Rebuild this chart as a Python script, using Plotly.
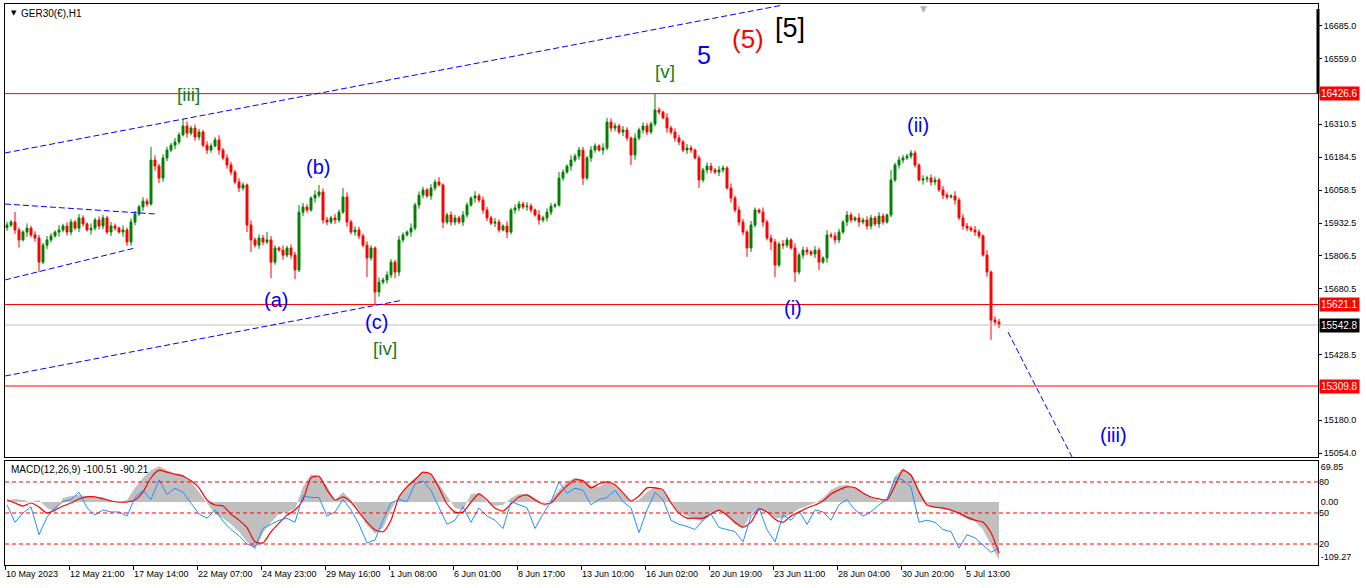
import plotly.graph_objects as go

# GER30 hourly chart (x = bar number)
opens = [
    15915, 15925, 15936, 15906, 15868, 15898, 15913, 15887, 15875, 15783,
    15848, 15868, 15883, 15898, 15906, 15921, 15898, 15936, 15913, 15952,
    15929, 15906, 15913, 15944, 15921, 15952, 15898, 15921, 15913, 15898,
    15906, 15860, 15936, 15967, 15994, 16016, 16005, 16173, 16150, 16104,
    16181, 16211, 16230, 16242, 16269, 16303, 16276, 16295, 16261, 16280,
    16230, 16211, 16227, 16250, 16211, 16181, 16154, 16127, 16089, 16066,
    16078, 15925, 15868, 15848, 15875, 15860, 15868, 15783, 15837, 15829,
    15810, 15837, 15810, 15753, 15974, 15994, 15982, 16028, 16039, 16051,
    15944, 15936, 15952, 15944, 15974, 16032, 15936, 15898, 15906, 15883,
    15848, 15799, 15837, 15669, 15707, 15715, 15734, 15783, 15745, 15868,
    15887, 15898, 15913, 16001, 16039, 16059, 16036, 16066, 16089, 16078,
    15936, 15963, 15936, 15952, 15936, 15963, 16001, 16028, 16036, 16020,
    15982, 15952, 15932, 15936, 15906, 15921, 15898, 15982, 15990, 16005,
    15994, 15997, 15982, 15963, 15944, 15952, 15974, 15997, 16001, 16104,
    16127, 16150, 16173, 16188, 16211, 16104, 16181, 16211, 16227, 16211,
    16219, 16318, 16295, 16303, 16280, 16288, 16257, 16192, 16257, 16288,
    16303, 16280, 16311, 16364, 16356, 16334, 16295, 16280, 16257, 16242,
    16211, 16219, 16211, 16181, 16097, 16135, 16150, 16135, 16127, 16135,
    16143, 16066, 16028, 15982, 15936, 15898, 15837, 15925, 15982, 15974,
    15936, 15875, 15860, 15772, 15852, 15848, 15868, 15837, 15745, 15810,
    15829, 15822, 15814, 15829, 15783, 15799, 15887, 15883, 15868, 15898,
    15936, 15963, 15944, 15952, 15936, 15944, 15921, 15952, 15929, 15959,
    15936, 15963, 16097, 16154, 16173, 16181, 16188, 16200, 16154, 16097,
    16101, 16104, 16089, 16097, 16059, 16039, 16032, 16036, 16020, 15952,
    15921, 15913, 15906, 15898, 15883, 15810, 15745, 15562, 15554,
]
highs = [
    15937, 15944, 15975, 15916, 15904, 15931, 15922, 15901, 15887, 15856,
    15883, 15893, 15904, 15924, 15930, 15935, 15948, 15944, 15967, 15962,
    15935, 15931, 15953, 15958, 15964, 15960, 15936, 15931, 15919, 15924,
    15915, 15950, 15979, 16002, 16031, 16026, 16223, 16191, 16159, 16195,
    16223, 16238, 16257, 16279, 16330, 16321, 16304, 16309, 16292, 16288,
    16245, 16237, 16261, 16268, 16220, 16195, 16166, 16135, 16104, 16088,
    16084, 15943, 15877, 15889, 15887, 15898, 15883, 15847, 15843, 15847,
    15846, 15851, 15822, 16001, 16009, 16004, 16034, 16057, 16078, 16065,
    15956, 15960, 15967, 15984, 16066, 16050, 15945, 15920, 15918, 15891,
    15863, 15847, 15843, 15725, 15724, 15748, 15795, 15791, 15883, 15897,
    15904, 15931, 16010, 16053, 16071, 16067, 16081, 16099, 16108, 16084,
    15972, 15977, 15964, 15960, 15978, 16011, 16034, 16054, 16045, 16034,
    15994, 15960, 15951, 15946, 15927, 15939, 15991, 16004, 16017, 16013,
    16012, 16007, 15988, 15981, 15961, 15988, 16009, 16009, 16127, 16137,
    16156, 16191, 16197, 16223, 16223, 16189, 16226, 16237, 16233, 16237,
    16334, 16332, 16315, 16311, 16303, 16298, 16263, 16275, 16297, 16317,
    16315, 16319, 16426, 16374, 16362, 16352, 16304, 16294, 16269, 16250,
    16234, 16229, 16217, 16190, 16144, 16164, 16162, 16143, 16150, 16153,
    16149, 16084, 16037, 15996, 15948, 15906, 15940, 15992, 15988, 15992,
    15945, 15889, 15872, 15860, 15867, 15878, 15874, 15855, 15819, 15843,
    15841, 15830, 15844, 15839, 15805, 15905, 15896, 15897, 15910, 15944,
    15978, 15973, 15958, 15970, 15953, 15958, 15964, 15960, 15974, 15969,
    15969, 16135, 16163, 16187, 16193, 16196, 16211, 16210, 16160, 16115,
    16113, 16118, 16109, 16105, 16074, 16049, 16042, 16054, 16029, 15966,
    15933, 15921, 15921, 15908, 15889, 15828, 15751, 15576, 15566,
]
lows = [
    15903, 15917, 15891, 15838, 15862, 15880, 15878, 15861, 15745, 15775,
    15833, 15858, 15877, 15880, 15897, 15884, 15886, 15905, 15898, 15919,
    15900, 15888, 15904, 15907, 15909, 15890, 15883, 15903, 15892, 15880,
    15845, 15846, 15924, 15959, 15979, 15995, 15999, 16132, 16085, 16090,
    16169, 16203, 16215, 16232, 16263, 16258, 16267, 16247, 16249, 16222,
    16196, 16201, 16221, 16193, 16172, 16140, 16115, 16081, 16051, 16056,
    15898, 15822, 15839, 15834, 15848, 15852, 15722, 15773, 15823, 15792,
    15801, 15796, 15718, 15745, 15959, 15972, 15976, 16010, 16030, 15930,
    15924, 15928, 15929, 15934, 15968, 15918, 15889, 15884, 15871, 15840,
    15726, 15789, 15619, 15651, 15698, 15701, 15722, 15722, 15730, 15858,
    15881, 15880, 15904, 15987, 16027, 16028, 16021, 16056, 16072, 15913,
    15927, 15922, 15924, 15928, 15921, 15953, 15995, 16010, 16011, 15968,
    15940, 15924, 15917, 15896, 15900, 15875, 15889, 15968, 15978, 15986,
    15979, 15972, 15957, 15926, 15935, 15938, 15962, 15989, 15995, 16094,
    16121, 16132, 16164, 16174, 16078, 16096, 16166, 16201, 16205, 16193,
    16210, 16281, 16283, 16272, 16265, 16247, 16154, 16174, 16248, 16274,
    16268, 16272, 16302, 16346, 16328, 16277, 16271, 16243, 16230, 16203,
    16196, 16201, 16175, 16066, 16088, 16121, 16123, 16119, 16112, 16125,
    16060, 16010, 15973, 15922, 15886, 15803, 15822, 15915, 15968, 15918,
    15866, 15829, 15726, 15764, 15833, 15838, 15831, 15707, 15736, 15796,
    15810, 15806, 15799, 15753, 15777, 15781, 15874, 15854, 15856, 15890,
    15921, 15934, 15938, 15918, 15927, 15907, 15909, 15921, 15914, 15926,
    15930, 15955, 16088, 16140, 16161, 16173, 16178, 16144, 16091, 16079,
    16088, 16075, 16077, 16051, 16024, 16022, 16026, 16002, 15943, 15907,
    15901, 15898, 15883, 15873, 15804, 15727, 15486, 15540, 15531,
]
closes = [
    15925, 15936, 15906, 15868, 15898, 15913, 15887, 15875, 15783, 15848,
    15868, 15883, 15898, 15906, 15921, 15898, 15936, 15913, 15952, 15929,
    15906, 15913, 15944, 15921, 15952, 15898, 15921, 15913, 15898, 15906,
    15860, 15936, 15967, 15994, 16016, 16005, 16173, 16150, 16104, 16181,
    16211, 16230, 16242, 16269, 16303, 16276, 16295, 16261, 16280, 16230,
    16211, 16227, 16250, 16211, 16181, 16154, 16127, 16089, 16066, 16078,
    15925, 15868, 15848, 15875, 15860, 15868, 15783, 15837, 15829, 15810,
    15837, 15810, 15753, 15974, 15994, 15982, 16028, 16039, 16051, 15944,
    15936, 15952, 15944, 15974, 16032, 15936, 15898, 15906, 15883, 15848,
    15799, 15837, 15669, 15707, 15715, 15734, 15783, 15745, 15868, 15887,
    15898, 15913, 16001, 16039, 16059, 16036, 16066, 16089, 16078, 15936,
    15963, 15936, 15952, 15936, 15963, 16001, 16028, 16036, 16020, 15982,
    15952, 15932, 15936, 15906, 15921, 15898, 15982, 15990, 16005, 15994,
    15997, 15982, 15963, 15944, 15952, 15974, 15997, 16001, 16104, 16127,
    16150, 16173, 16188, 16211, 16104, 16181, 16211, 16227, 16211, 16219,
    16318, 16295, 16303, 16280, 16288, 16257, 16192, 16257, 16288, 16303,
    16280, 16311, 16364, 16356, 16334, 16295, 16280, 16257, 16242, 16211,
    16219, 16211, 16181, 16097, 16135, 16150, 16135, 16127, 16135, 16143,
    16066, 16028, 15982, 15936, 15898, 15837, 15925, 15982, 15974, 15936,
    15875, 15860, 15772, 15852, 15848, 15868, 15837, 15745, 15810, 15829,
    15822, 15814, 15829, 15783, 15799, 15887, 15883, 15868, 15898, 15936,
    15963, 15944, 15952, 15936, 15944, 15921, 15952, 15929, 15959, 15936,
    15963, 16097, 16154, 16173, 16181, 16188, 16200, 16154, 16097, 16101,
    16104, 16089, 16097, 16059, 16039, 16032, 16036, 16020, 15952, 15921,
    15913, 15906, 15898, 15883, 15810, 15745, 15562, 15554, 15543,
]

# lower panel, one value every second bar
macd_hist = [
    4, 6, 4, 0, 4, -12, -20, 8, 12, 14,
    12, 10, 10, 4, -2, 4, 28, 48, 63, 71,
    63, 57, 55, 40, 20, -2, -24, -32, -44, -59,
    -79, -95, -61, -40, -24, -20, -14, 30, 55, 51,
    32, 4, 20, 4, -16, -46, -63, -51, -16, 12,
    32, 48, 59, 55, 36, 12, -12, -16, 16, 18,
    0, -8, -6, 8, 16, 16, 8, -2, 4, 24,
    40, 48, 44, 32, 30, 42, 32, 16, 0, 4,
    20, 30, 24, -2, -20, -28, -34, -38, -24, -16,
    -28, -44, -53, -24, -12, -20, -32, -32, -24, -14,
    -8, -2, 8, 24, 32, 34, 26, 18, 10, 2,
    8, 51, 67, 55, 24, -4, -10, -14, -16, -24,
    -34, -38, -55, -85, -115,
]
macd_signal = [
    4, -2, -8, -2, -10, -22, -16, -8, -2, 6,
    10, 10, 6, 2, 0, 0, 4, 20, 48, 63,
    59, 55, 51, 42, 28, 4, -6, -8, -24, -36,
    -51, -79, -81, -59, -42, -26, -16, 4, 48, 51,
    24, 4, 10, 0, -20, -40, -55, -59, -36, 10,
    30, 44, 59, 55, 28, -4, -20, -20, 0, 16,
    4, -12, -18, -4, 10, 14, 4, -4, -2, 16,
    32, 44, 42, 28, 36, 40, 34, 18, 2, 12,
    28, 28, 24, -2, -22, -32, -32, -32, -24, -16,
    -26, -40, -50, -40, -14, -20, -34, -40, -28, -20,
    -12, -6, 2, 16, 24, 30, 28, 18, 10, 6,
    4, 32, 63, 53, 20, -6, -10, -12, -16, -22,
    -30, -36, -40, -61, -101,
]
osc_line = [
    58, 41, 50, 56, 29, 46, 55, 61, 63, 70,
    55, 48, 53, 51, 51, 47, 65, 72, 63, 82,
    68, 74, 70, 60, 49, 45, 53, 42, 34, 28,
    20, 17, 35, 39, 43, 45, 41, 67, 65, 65,
    47, 51, 63, 53, 39, 21, 24, 43, 60, 63,
    61, 78, 81, 72, 55, 39, 43, 56, 41, 55,
    47, 43, 35, 61, 58, 55, 35, 49, 61, 80,
    69, 74, 72, 58, 63, 65, 72, 61, 55, 31,
    53, 70, 63, 43, 39, 37, 34, 43, 49, 36,
    34, 32, 22, 47, 55, 34, 22, 48, 43, 52,
    39, 53, 51, 43, 58, 63, 53, 47, 51, 58,
    63, 84, 82, 75, 41, 43, 41, 34, 32, 16,
    29, 26, 19, 12, 16,
]
osc_levels = [80, 50, 20]

time_labels = [
    "10 May 2023", "12 May 21:00", "17 May 14:00", "22 May 07:00", "24 May 23:00",
    "29 May 16:00", "1 Jun 08:00", "6 Jun 01:00", "8 Jun 17:00", "13 Jun 10:00",
    "16 Jun 02:00", "20 Jun 19:00", "23 Jun 11:00", "28 Jun 04:00", "30 Jun 20:00",
    "5 Jul 13:00",
]
price_ticks = [16685.0, 16559.0, 16310.5, 16184.5, 16058.5, 15932.5, 15806.5,
               15680.5, 15428.5, 15180.0, 15054.0]
levels = [16426.6, 15621.1, 15309.8]
bid = 15542.8

# hand drawn channel / projection lines: (bar, price) -> (bar, price)
trend_lines = [
    ((-0.5, 16200), (194, 16765)),
    ((-0.5, 15348), (99, 15638)),
    ((-0.5, 16005), (37, 15967)),
    ((-0.5, 15715), (32, 15837)),
    ((250.25, 15516), (266.25, 15039)),
]

bars = list(range(len(closes)))
macd_x = bars[::2]
tick_pos = [-0.5 + 16 * k for k in range(len(time_labels))]
FONT = "Liberation Sans"

fig = go.Figure()
fig.add_trace(go.Candlestick(
    x=bars, open=opens, high=highs, low=lows, close=closes,
    increasing=dict(line=dict(color="#008000", width=1), fillcolor="#008000"),
    decreasing=dict(line=dict(color="#ff0000", width=1), fillcolor="#ff0000"),
    whiskerwidth=0, xaxis="x", yaxis="y", hoverinfo="skip"))
# histogram drawn as a filled area, MT4 bars are packed so tight they read as one
fig.add_trace(go.Scatter(x=macd_x, y=macd_hist, mode="none", fill="tozeroy",
                         fillcolor="#c0c0c0", xaxis="x2", yaxis="y2"))
fig.add_trace(go.Scatter(x=macd_x, y=macd_signal, mode="lines", xaxis="x2", yaxis="y2",
                         line=dict(color="#ff0000", width=1.2, shape="spline", smoothing=0.6)))
fig.add_trace(go.Scatter(x=macd_x, y=osc_line, mode="lines", xaxis="x2", yaxis="y3",
                         line=dict(color="#1e90ff", width=1)))

for lv in levels:
    fig.add_shape(type="line", xref="x domain", x0=0, x1=1, yref="y", y0=lv, y1=lv,
                  line=dict(color="#ff0000", width=1))
fig.add_shape(type="line", xref="x domain", x0=0, x1=1, yref="y", y0=bid, y1=bid,
              line=dict(color="#c0c0c0", width=1))
for (x0, y0), (x1, y1) in trend_lines:
    fig.add_shape(type="line", xref="x", yref="y", x0=x0, y0=y0, x1=x1, y1=y1,
                  line=dict(color="#0000ff", width=1, dash="6px,3px"))
for lv in osc_levels:
    fig.add_shape(type="line", xref="x2 domain", x0=0, x1=1, yref="y3", y0=lv, y1=lv,
                  line=dict(color="#ff0000", width=1, dash="4px,3px"))
fig.add_shape(type="line", xref="paper", x0=1, x1=1, yref="y", y0=levels[0], y1=16750,
              line=dict(color="black", width=3))

# price tags on the right axis
for lv in levels:
    fig.add_annotation(xref="paper", x=1, xanchor="left", xshift=1, yref="y", y=lv,
                       text=f"{lv:.1f}", showarrow=False, bgcolor="#ff0000", borderpad=1,
                       font=dict(family=FONT, size=10, color="white"))
fig.add_annotation(xref="paper", x=1, xanchor="left", xshift=1, yref="y", y=bid,
                   text=f"{bid:.1f}", showarrow=False, bgcolor="black", borderpad=1,
                   font=dict(family=FONT, size=10, color="white"))

# wave labels
wave_labels = [
    ("[iii]", 45.25, 16425, "#1c7c1c", 19),
    ("[iv]", 94.5, 15455, "#1c7c1c", 19),
    ("[v]", 164.5, 16513, "#1c7c1c", 19),
    ("(a)", 67.25, 15638, "#0000ff", 20),
    ("(b)", 77.75, 16146, "#0000ff", 20),
    ("(c)", 92.25, 15555, "#0000ff", 20),
    ("(i)", 196.5, 15608, "#0000ff", 20),
    ("(ii)", 227.75, 16307, "#0000ff", 20),
    ("(iii)", 276.5, 15123, "#0000ff", 20),
    ("5", 174.25, 16574, "#0000ff", 25),
    ("(5)", 185.25, 16635, "#ff0000", 26),
    ("[5]", 195.75, 16677, "black", 27),
]
for txt, bx, py, col, sz in wave_labels:
    fig.add_annotation(x=bx, y=py, xref="x", yref="y", text=txt, showarrow=False,
                       font=dict(family=FONT, size=sz, color=col))

fig.add_annotation(xref="paper", x=0, xanchor="left", xshift=4, yref="paper", y=1,
                   yanchor="middle", yshift=-9, text="▼", showarrow=False,
                   font=dict(family="DejaVu Sans", size=7, color="black"))
fig.add_annotation(xref="paper", x=0, xanchor="left", xshift=14, yref="paper", y=1,
                   yanchor="middle", yshift=-9, text="GER30(€),H1", showarrow=False,
                   font=dict(family=FONT, size=10, color="black"))
fig.add_annotation(xref="paper", x=0, xanchor="left", xshift=4, yref="paper", y=0.1854,
                   yanchor="middle", yshift=-9, text="MACD(12,26,9) -100.51 -90.21",
                   showarrow=False, font=dict(family=FONT, size=10, color="black"))
fig.add_annotation(xref="x", x=229, yref="paper", y=1, yanchor="top", yshift=2,
                   text="▼", showarrow=False,
                   font=dict(family="DejaVu Sans", size=9, color="#b4b4b4"))

x_range = [-0.5, 327.75]
frame = dict(showline=True, mirror=True, linecolor="black", linewidth=1,
             showgrid=False, zeroline=False, automargin=False)

fig.update_layout(
    width=1366, height=588,
    margin=dict(l=5, r=48, t=4, b=23),
    paper_bgcolor="white", plot_bgcolor="white",
    showlegend=False,
    font=dict(family=FONT, size=9, color="black"),
    xaxis=dict(domain=[0, 1], anchor="y", range=x_range, showticklabels=False,
               ticks="", rangeslider=dict(visible=False), **frame),
    xaxis2=dict(domain=[0, 1], anchor="y2", range=x_range, tickvals=tick_pos,
                ticktext=time_labels, ticks="outside", ticklen=4, tickcolor="black",
                tickangle=0, ticklabelposition="outside right", **frame),
    yaxis=dict(domain=[0.1925, 1], anchor="x", side="right", range=[15038.7, 16769.0],
               tickvals=price_ticks, ticktext=[f"{v:.1f}" for v in price_ticks],
               ticks="outside", ticklen=3, tickcolor="black", **frame),
    yaxis2=dict(domain=[0, 0.1854], anchor="x2", side="right", range=[-124.8, 81.2],
                tickvals=[69.85, 0, -109.27], ticktext=["69.85", "0.00", "-109.27"],
                ticks="", **frame),
    yaxis3=dict(overlaying="y2", anchor="x2", side="right", range=[-0.3, 100.3],
                tickvals=osc_levels, ticks="", showgrid=False, zeroline=False,
                automargin=False),
)

# the page body has a default 8px margin; drop it so the chart sits at the window corner
fig.write_html("out.html", config={"displayModeBar": False},
               post_script="document.body.style.margin='0';")
